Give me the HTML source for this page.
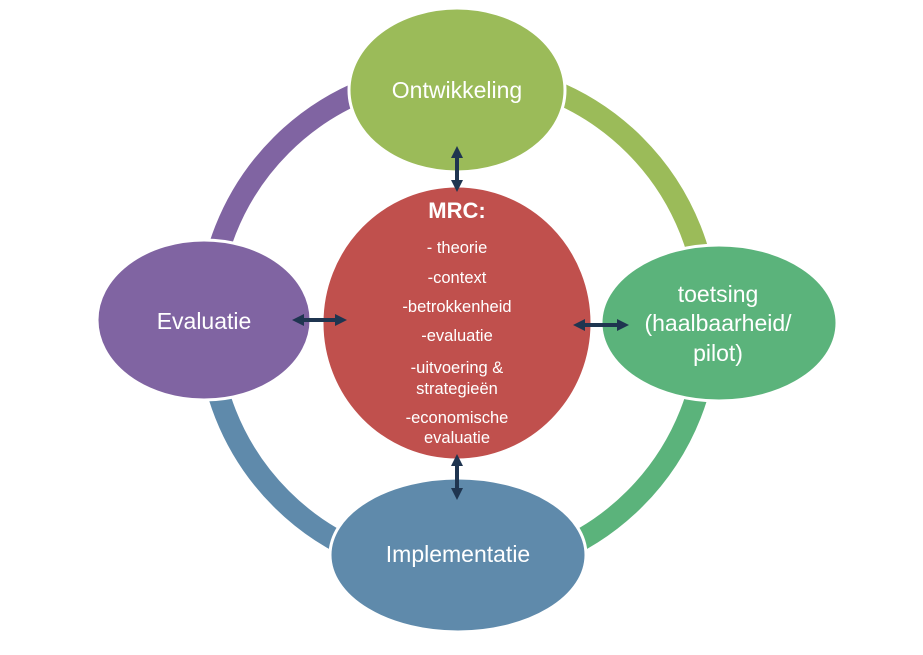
<!DOCTYPE html>
<html><head><meta charset="utf-8"><style>
html,body{margin:0;padding:0;background:#fff;}
svg text{font-family:"Liberation Sans",sans-serif;fill:#fff;}
</style></head><body>
<svg width="923" height="650" viewBox="0 0 923 650" xmlns="http://www.w3.org/2000/svg">
<defs>
<marker id="ah" viewBox="0 0 10 10" refX="5" refY="5" markerWidth="3" markerHeight="3" orient="auto-start-reverse">
<path d="M0,0 L10,5 L0,10 z" fill="#1f3550"/>
</marker>
</defs>
<g fill="none" stroke-width="22">
<circle cx="458" cy="322" r="250" stroke="#9bbb59" stroke-dasharray="393 2000" transform="rotate(-90 458 322)"/>
<circle cx="458" cy="322" r="250" stroke="#5bb37b" stroke-dasharray="393 2000" transform="rotate(0 458 322)"/>
<circle cx="458" cy="322" r="250" stroke="#5f8aab" stroke-dasharray="393 2000" transform="rotate(90 458 322)"/>
<circle cx="458" cy="322" r="250" stroke="#8064a2" stroke-dasharray="393 2000" transform="rotate(180 458 322)"/>
</g>
<g stroke="#fff" stroke-width="3">
<ellipse cx="457" cy="90" rx="108" ry="82" fill="#9bbb59"/>
<ellipse cx="719" cy="323" rx="118" ry="78" fill="#5bb37b"/>
<ellipse cx="458" cy="555" rx="128" ry="77" fill="#5f8aab"/>
<ellipse cx="204" cy="320" rx="107" ry="80" fill="#8064a2"/>
<ellipse cx="457" cy="323" rx="135" ry="137" fill="#c0504d"/>
</g>
<g stroke="#1f3550" stroke-width="4" marker-start="url(#ah)" marker-end="url(#ah)">
<line x1="457" y1="152" x2="457" y2="186"/>
<line x1="457" y1="460" x2="457" y2="494"/>
<line x1="298" y1="320" x2="341" y2="320"/>
<line x1="579" y1="325" x2="623" y2="325"/>
</g>
<g text-anchor="middle">
<text x="457" y="98" font-size="23">Ontwikkeling</text>
<text x="204" y="329" font-size="23">Evaluatie</text>
<text x="458" y="562" font-size="23">Implementatie</text>
<text x="718" y="302" font-size="23">toetsing</text>
<text x="718" y="331" font-size="23">(haalbaarheid/</text>
<text x="718" y="361" font-size="23">pilot)</text>
<text x="457" y="218" font-size="22" font-weight="bold">MRC:</text>
<g font-size="16.5">
<text x="457" y="253">- theorie</text>
<text x="457" y="283">-context</text>
<text x="457" y="312">-betrokkenheid</text>
<text x="457" y="341">-evaluatie</text>
<text x="457" y="373">-uitvoering &amp;</text>
<text x="457" y="394">strategieën</text>
<text x="457" y="423">-economische</text>
<text x="457" y="443">evaluatie</text>
</g>
</g>
</svg>
</body></html>
